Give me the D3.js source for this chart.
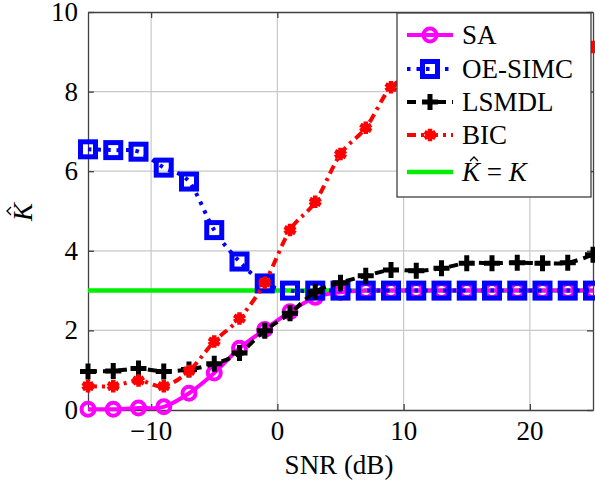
<!DOCTYPE html>
<html>
<head>
<meta charset="utf-8">
<script src="https://cdn.jsdelivr.net/npm/d3@7"></script>
<style>
  svg text, svg tspan { font-family: "Liberation Serif" !important; }
</style>
</head>
<body style="margin:0">
<svg id="chart" width="595" height="486"></svg>
<script>
var FONT = "Liberation Serif";
var FS = 27;

// SNR (dB) at every marker
var snr = [-15, -13, -11, -9, -7, -5, -3, -1, 1, 3, 5, 7, 9, 11, 13, 15, 17, 19, 21, 23, 25];

// estimated number of sources K-hat for each method
var saVals    = [0.02, 0.02, 0.05, 0.08, 0.42, 0.93, 1.55, 2.02, 2.47, 2.83, 2.96, 3, 3, 3, 3, 3, 3, 3, 3, 3, 3];
var oeVals    = [6.55, 6.53, 6.49, 6.09, 5.74, 4.52, 3.73, 3.18, 3, 3, 3, 3, 3, 3, 3, 3, 3, 3, 3, 3, 3];
var lsmdlVals = [0.97, 0.98, 1.04, 0.97, 1.02, 1.16, 1.43, 1.99, 2.43, 2.97, 3.2, 3.37, 3.52, 3.5, 3.56, 3.69, 3.69, 3.7, 3.69, 3.7, 3.9];
var bicVals   = [0.6, 0.6, 0.74, 0.6, 0.98, 1.72, 2.3, 3.2, 4.52, 5.23, 6.43, 7.09, 8.11, 8.4, 8.6, 8.75, 8.85, 8.95, 9.0, 9.05, 9.12];
var trueK = 3;

var xTicks = [-10, 0, 10, 20];
var xTickLabels = ["\u221210", "0", "10", "20"];
var yTicks = [0, 2, 4, 6, 8, 10];
var xDomain = [-15, 25];
var yDomain = [0, 10];

var svg = d3.select("#chart").style("font-family", FONT, "important");
var x = d3.scaleLinear().domain(xDomain).range([88, 593]);
var y = d3.scaleLinear().domain(yDomain).range([410, 12]);

function txt(parent) {
  return parent.append("text").attr("font-size", FS).style("font-family", FONT, "important");
}

// grid
svg.append("g").selectAll("line").data(xTicks).enter().append("line")
  .attr("x1", function(d){ return x(d); }).attr("x2", function(d){ return x(d); })
  .attr("y1", y(10)).attr("y2", y(0))
  .attr("stroke", "#c8c8c8").attr("stroke-width", 1.2);
svg.append("g").selectAll("line").data(yTicks.slice(1, -1)).enter().append("line")
  .attr("y1", function(d){ return y(d); }).attr("y2", function(d){ return y(d); })
  .attr("x1", x(-15)).attr("x2", x(25))
  .attr("stroke", "#c8c8c8").attr("stroke-width", 1.2);

// axis frame + inward ticks on all four sides (labels drawn separately)
var xAxis = svg.append("g").attr("transform", "translate(0," + y(0) + ")")
  .call(d3.axisBottom(x).tickValues(xTicks).tickSizeInner(-6).tickSizeOuter(0).tickFormat(""));
var yAxis = svg.append("g").attr("transform", "translate(" + x(-15) + ",0)")
  .call(d3.axisLeft(y).tickValues(yTicks).tickSizeInner(-6).tickSizeOuter(0).tickFormat(""));
var xTop = svg.append("g").attr("transform", "translate(0," + y(10) + ")")
  .call(d3.axisTop(x).tickValues(xTicks).tickSizeInner(-6).tickSizeOuter(0).tickFormat(""));
var yRight = svg.append("g").attr("transform", "translate(" + x(25) + ",0)")
  .call(d3.axisRight(y).tickValues(yTicks).tickSizeInner(-6).tickSizeOuter(0).tickFormat(""));
[xAxis, yAxis, xTop, yRight].forEach(function(a){
  a.attr("font-family", null);
  a.select(".domain").attr("stroke", "#404040").attr("stroke-width", 1.3);
  a.selectAll(".tick line").attr("stroke", "#404040").attr("stroke-width", 1.3);
});

// tick labels
xTicks.forEach(function(d, i) {
  txt(svg).attr("x", x(d)).attr("y", 440).attr("text-anchor", "middle").text(xTickLabels[i]);
});
yTicks.forEach(function(d) {
  txt(svg).attr("x", 78).attr("y", y(d) + 9).attr("text-anchor", "end").text(d);
});

// axis labels
txt(svg).attr("x", 339).attr("y", 474).attr("text-anchor", "middle").text("SNR (dB)");
var yl = svg.append("g").attr("transform", "translate(32,212)rotate(-90)");
txt(yl).attr("text-anchor", "middle").style("font-style", "italic").text("K");
yl.append("path").attr("d", "M-3,-21L1,-25L5,-21").attr("fill", "none")
  .attr("stroke", "#000").attr("stroke-width", 1.3);

// series
var series = [
  { name: "SA", vals: saVals, color: "#ff00ff", dash: null, mark: "circle" },
  { name: "OE-SIMC", vals: oeVals, color: "#0000ff", dash: "3.5,6", mark: "square" },
  { name: "LSMDL", vals: lsmdlVals, color: "#000000", dash: "9,6", mark: "plus" },
  { name: "BIC", vals: bicVals, color: "#ff0000", dash: "9,5,3,5", mark: "star" }
];

function drawMark(g, type, color) {
  if (type == "circle") {
    g.append("circle").attr("r", 6.5).attr("fill", "none")
      .attr("stroke", color).attr("stroke-width", 4);
  } else if (type == "square") {
    g.append("rect").attr("x", -7.5).attr("y", -7.5).attr("width", 15).attr("height", 15)
      .attr("fill", "none").attr("stroke", color).attr("stroke-width", 5);
  } else if (type == "plus") {
    g.append("path").attr("d", "M-8,0H8M0,-8V8").attr("stroke", color).attr("stroke-width", 5);
  } else {
    g.append("path").attr("d", d3.symbol().type(d3.symbolAsterisk).size(110)())
      .attr("stroke", color).attr("stroke-width", 4.5).attr("fill", "none");
    g.append("circle").attr("r", 4.5).attr("fill", color);
  }
}

var line = d3.line().curve(d3.curveCatmullRom.alpha(0));

// reference line K-hat = K
svg.append("line").attr("x1", x(-15)).attr("x2", x(25))
  .attr("y1", y(trueK)).attr("y2", y(trueK))
  .attr("stroke", "#00ee00").attr("stroke-width", 4.5);

series.forEach(function(s) {
  var pts = snr.map(function(d, i){ return [x(d), y(s.vals[i])]; });
  svg.append("path").attr("d", line(pts)).attr("fill", "none")
    .attr("stroke", s.color).attr("stroke-width", 4)
    .attr("stroke-dasharray", s.dash);
  pts.forEach(function(p) {
    drawMark(svg.append("g").attr("transform", "translate(" + p[0] + "," + p[1] + ")"), s.mark, s.color);
  });
});

// legend
var leg = svg.append("g");
leg.append("rect").attr("x", 397).attr("y", 13).attr("width", 194).attr("height", 184)
  .attr("fill", "#fff").attr("stroke", "#404040").attr("stroke-width", 1.3);
var rowY = [35, 69, 102, 135, 172];
series.forEach(function(s, i) {
  var g = leg.append("g").attr("transform", "translate(0," + rowY[i] + ")");
  g.append("line").attr("x1", 407).attr("x2", 453).attr("y1", 0).attr("y2", 0)
    .attr("stroke", s.color).attr("stroke-width", 4).attr("stroke-dasharray", s.dash);
  drawMark(g.append("g").attr("transform", "translate(430,0)"), s.mark, s.color);
  txt(g).attr("x", 462).attr("y", 9).text(s.name);
});
var gk = leg.append("g").attr("transform", "translate(0," + rowY[4] + ")");
gk.append("line").attr("x1", 407).attr("x2", 453).attr("y1", 0).attr("y2", 0)
  .attr("stroke", "#00ee00").attr("stroke-width", 4.5);
var kt = txt(gk).attr("x", 462).attr("y", 9);
kt.append("tspan").style("font-style", "italic").text("K");
kt.append("tspan").text(" = ");
kt.append("tspan").style("font-style", "italic").text("K");
gk.append("path").attr("d", "M470,-11L474,-15L478,-11").attr("fill", "none")
  .attr("stroke", "#000").attr("stroke-width", 1.3);
</script>
</body>
</html>
